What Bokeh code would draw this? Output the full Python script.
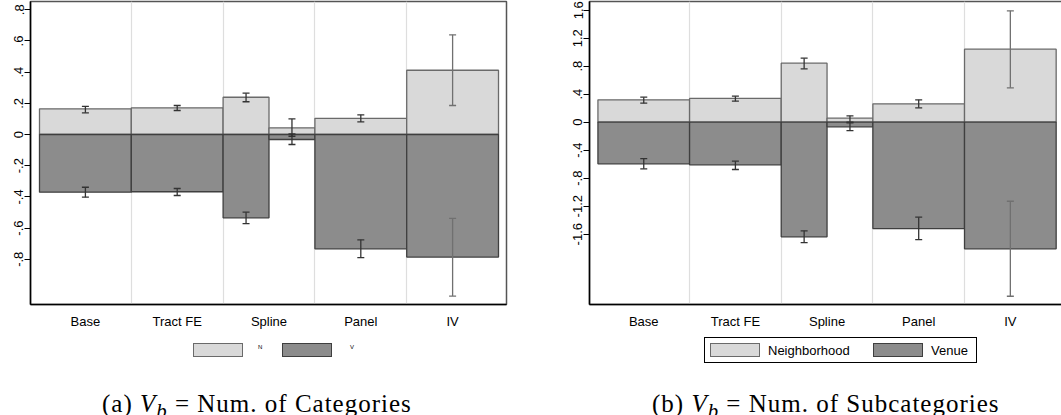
from bokeh.plotting import figure
from bokeh.models import (ColumnDataSource, Range1d, FixedTicker, CustomJSTickFormatter,
                          Whisker, TeeHead, Div)
from bokeh.layouts import gridplot
from bokeh.embed import file_html
from bokeh.resources import INLINE

# ---------------- data ----------------
categories = ["Base", "Tract FE", "Spline", "Panel", "IV"]
# one entry per bar (the Spline model has two coefficients -> two bars)
bar_models = ["Base", "Tract FE", "Spline", "Spline", "Panel", "IV"]

# (a) V_b = Num. of Categories
nbhd_a = [0.165, 0.171, 0.239, 0.043, 0.104, 0.412]
nbhd_a_lo = [0.139, 0.154, 0.210, -0.011, 0.081, 0.186]
nbhd_a_hi = [0.181, 0.186, 0.265, 0.100, 0.126, 0.639]
venue_a = [-0.370, -0.367, -0.534, -0.032, -0.733, -0.786]
venue_a_lo = [-0.402, -0.391, -0.571, -0.064, -0.790, -1.036]
venue_a_hi = [-0.338, -0.346, -0.498, 0.004, -0.675, -0.538]

# (b) V_b = Num. of Subcategories
nbhd_b = [0.320, 0.339, 0.843, 0.057, 0.262, 1.043]
nbhd_b_lo = [0.271, 0.300, 0.763, -0.010, 0.205, 0.491]
nbhd_b_hi = [0.357, 0.371, 0.914, 0.091, 0.320, 1.591]
venue_b = [-0.594, -0.609, -1.638, -0.066, -1.519, -1.809]
venue_b_lo = [-0.666, -0.676, -1.719, -0.119, -1.676, -2.486]
venue_b_hi = [-0.519, -0.557, -1.552, 0.000, -1.357, -1.129]

yticks_a = [-0.8, -0.6, -0.4, -0.2, 0.0, 0.2, 0.4, 0.6, 0.8]
yticklabels_a = ["-.8", "-.6", "-.4", "-.2", "0", ".2", ".4", ".6", ".8"]
yticks_b = [-1.6, -1.2, -0.8, -0.4, 0.0, 0.4, 0.8, 1.2, 1.6]
yticklabels_b = ["-1.6", "-1.2", "-.8", "-.4", "0", ".4", ".8", "1.2", "1.6"]

legend_a = ["N", "V"]
legend_b = ["Neighborhood", "Venue"]
caption_a = "(a) <i>V</i><sub><i>b</i></sub> = Num. of Categories"
caption_b = "(b) <i>V</i><sub><i>b</i></sub> = Num. of Subcategories"

# ---------------- styles ----------------
LIGHT = "#d9d9d9"
DARK = "#8c8c8c"
LIGHT_EDGE = "#6a6a6a"
DARK_EDGE = "#3f3f3f"
SANS = "Liberation Sans"
SERIF = "Liberation Serif"


def bar_geometry():
    lefts, rights = [], []
    for j, m in enumerate(bar_models):
        i = categories.index(m)
        n = bar_models.count(m)
        k = bar_models[:j].count(m)
        lefts.append(float(i + k / n))
        rights.append(float(i + (k + 1) / n))
    return lefts, rights


def tick_formatter(tvals, tlabs):
    return CustomJSTickFormatter(args=dict(tvals=list(tvals), tlabs=list(tlabs)), code="""
        const i = tvals.findIndex(t => Math.abs(t - tick) < 1e-9);
        return i >= 0 ? tlabs[i] : '';
    """)


def make_panel(nb, nb_lo, nb_hi, ve, ve_lo, ve_hi, yticks, ylabels, xr, yr,
               fwidth, border_left, border_right):
    p = figure(frame_width=fwidth, frame_height=303,
               x_range=Range1d(xr[0], xr[1]), y_range=Range1d(yr[0], yr[1]),
               output_backend="svg", toolbar_location=None,
               min_border_left=border_left, min_border_right=border_right,
               min_border_top=1, min_border_bottom=24)
    p.background_fill_color = "white"
    p.border_fill_color = "white"
    p.outline_line_color = "#555555"
    p.outline_line_width = 1.5

    lefts, rights = bar_geometry()
    centers = [(a + b) / 2 for a, b in zip(lefts, rights)]

    src_n = ColumnDataSource(dict(left=list(lefts), right=list(rights), top=list(nb),
                                  bottom=[0.0 for _ in lefts]))
    src_v = ColumnDataSource(dict(left=list(lefts), right=list(rights),
                                  top=[0.0 for _ in lefts], bottom=list(ve)))
    p.quad(left="left", right="right", top="top", bottom="bottom", source=src_n,
           fill_color=LIGHT, line_color=LIGHT_EDGE, line_width=1.3)
    p.quad(left="left", right="right", top="top", bottom="bottom", source=src_v,
           fill_color=DARK, line_color=DARK_EDGE, line_width=1.3)

    # error bars: IV (last bar) drawn lighter
    last = len(centers) - 1
    groups = (([i for i in range(len(centers)) if i != last], "#333333"), ([last], "#707070"))
    for idx_set, col in groups:
        xs, los, his = [], [], []
        for i in idx_set:
            xs += [centers[i], centers[i]]
            los += [nb_lo[i], ve_lo[i]]
            his += [nb_hi[i], ve_hi[i]]
        s = ColumnDataSource(dict(x=xs, lo=los, hi=his))
        w = Whisker(source=s, base="x", lower="lo", upper="hi",
                    line_color=col, line_width=1.3,
                    upper_head=TeeHead(size=7, line_color=col, line_width=1.3),
                    lower_head=TeeHead(size=7, line_color=col, line_width=1.3))
        w.level = "overlay"
        p.add_layout(w)

    # axes
    xt = [i + 0.5 for i in range(len(categories))]
    p.xaxis.ticker = FixedTicker(ticks=xt)
    p.xaxis.formatter = tick_formatter(xt, categories)
    p.xaxis.major_tick_line_color = None
    p.xaxis.minor_tick_line_color = None
    p.xaxis.major_label_standoff = 3
    p.xaxis.axis_line_color = "black"
    p.xaxis.axis_line_width = 1.5
    p.xaxis.major_label_text_font = SANS
    p.xaxis.major_label_text_font_size = "13px"
    p.xaxis.major_label_text_color = "black"

    p.yaxis.ticker = FixedTicker(ticks=list(yticks))
    p.yaxis.formatter = tick_formatter(yticks, ylabels)
    p.yaxis.major_label_orientation = "vertical"
    p.yaxis.major_tick_out = 6
    p.yaxis.major_tick_in = 0
    p.yaxis.major_tick_line_color = "black"
    p.yaxis.major_tick_line_width = 1.2
    p.yaxis.minor_tick_line_color = None
    p.yaxis.major_label_standoff = 1
    p.yaxis.axis_line_color = "black"
    p.yaxis.axis_line_width = 1.5
    p.yaxis.major_label_text_font = SANS
    p.yaxis.major_label_text_font_size = "13px"
    p.yaxis.major_label_text_color = "black"

    # grid: vertical separators between models
    p.xgrid.ticker = FixedTicker(ticks=[float(i) for i in range(1, len(categories))])
    p.xgrid.grid_line_color = "#dedede"
    p.xgrid.grid_line_width = 1.2
    p.ygrid.grid_line_color = None
    return p


def swatch(left, top, fill, edge):
    return ('<div style="position:absolute; left:%dpx; top:%dpx; width:50px; height:14px; '
            'box-sizing:border-box; background:%s; border:1px solid %s;"></div>'
            % (left, top, fill, edge))


def label(left, top, text, size):
    return ('<div style="position:absolute; left:%dpx; top:%dpx; font-family:\'%s\', sans-serif; '
            'font-size:%dpx; line-height:1; color:black; white-space:nowrap;">%s</div>'
            % (left, top, SANS, size, text))


def cap(text):
    return ('<div style="position:absolute; left:97px; top:54px; font-family:\'%s\', serif; '
            'font-size:25px; letter-spacing:1px; line-height:1.1; color:black; '
            'white-space:nowrap;">%s</div>' % (SERIF, text))


def bottom_a(width):
    inner = (swatch(188, 7, LIGHT, LIGHT_EDGE) + label(253, 8, legend_a[0], 6) +
             swatch(277, 7, DARK, DARK_EDGE) + label(345, 8, legend_a[1], 6) +
             cap(caption_a))
    html = '<div style="position:relative; width:%dpx; height:86px;">%s</div>' % (width, inner)
    return Div(text=html, width=width, height=86)


def bottom_b(width):
    box = ('<div style="position:absolute; left:149px; top:1px; width:273px; height:26px; '
           'box-sizing:border-box; border:1px solid black; background:white;">'
           + swatch(5, 5, LIGHT, LIGHT_EDGE) + label(63, 6, legend_b[0], 13)
           + swatch(168, 5, DARK, DARK_EDGE) + label(226, 6, legend_b[1], 13)
           + '</div>')
    html = ('<div style="position:relative; width:%dpx; height:86px;">%s%s</div>'
            % (width, box, cap(caption_b)))
    return Div(text=html, width=width, height=86)


pa = make_panel(nbhd_a, nbhd_a_lo, nbhd_a_hi, venue_a, venue_a_lo, venue_a_hi,
                yticks_a, yticklabels_a, (-0.098, 5.087), (-1.09, 0.853),
                476, 30, 34)
pb = make_panel(nbhd_b, nbhd_b_lo, nbhd_b_hi, venue_b, venue_b_lo, venue_b_hi,
                yticks_b, yticklabels_b, (-0.092, 5.08), (-2.604, 1.724),
                474, 39, 0)

layout = gridplot([[pa, pb], [bottom_a(540), bottom_b(513)]], toolbar_location=None)

open("out.html", "w").write(file_html(layout, INLINE))
